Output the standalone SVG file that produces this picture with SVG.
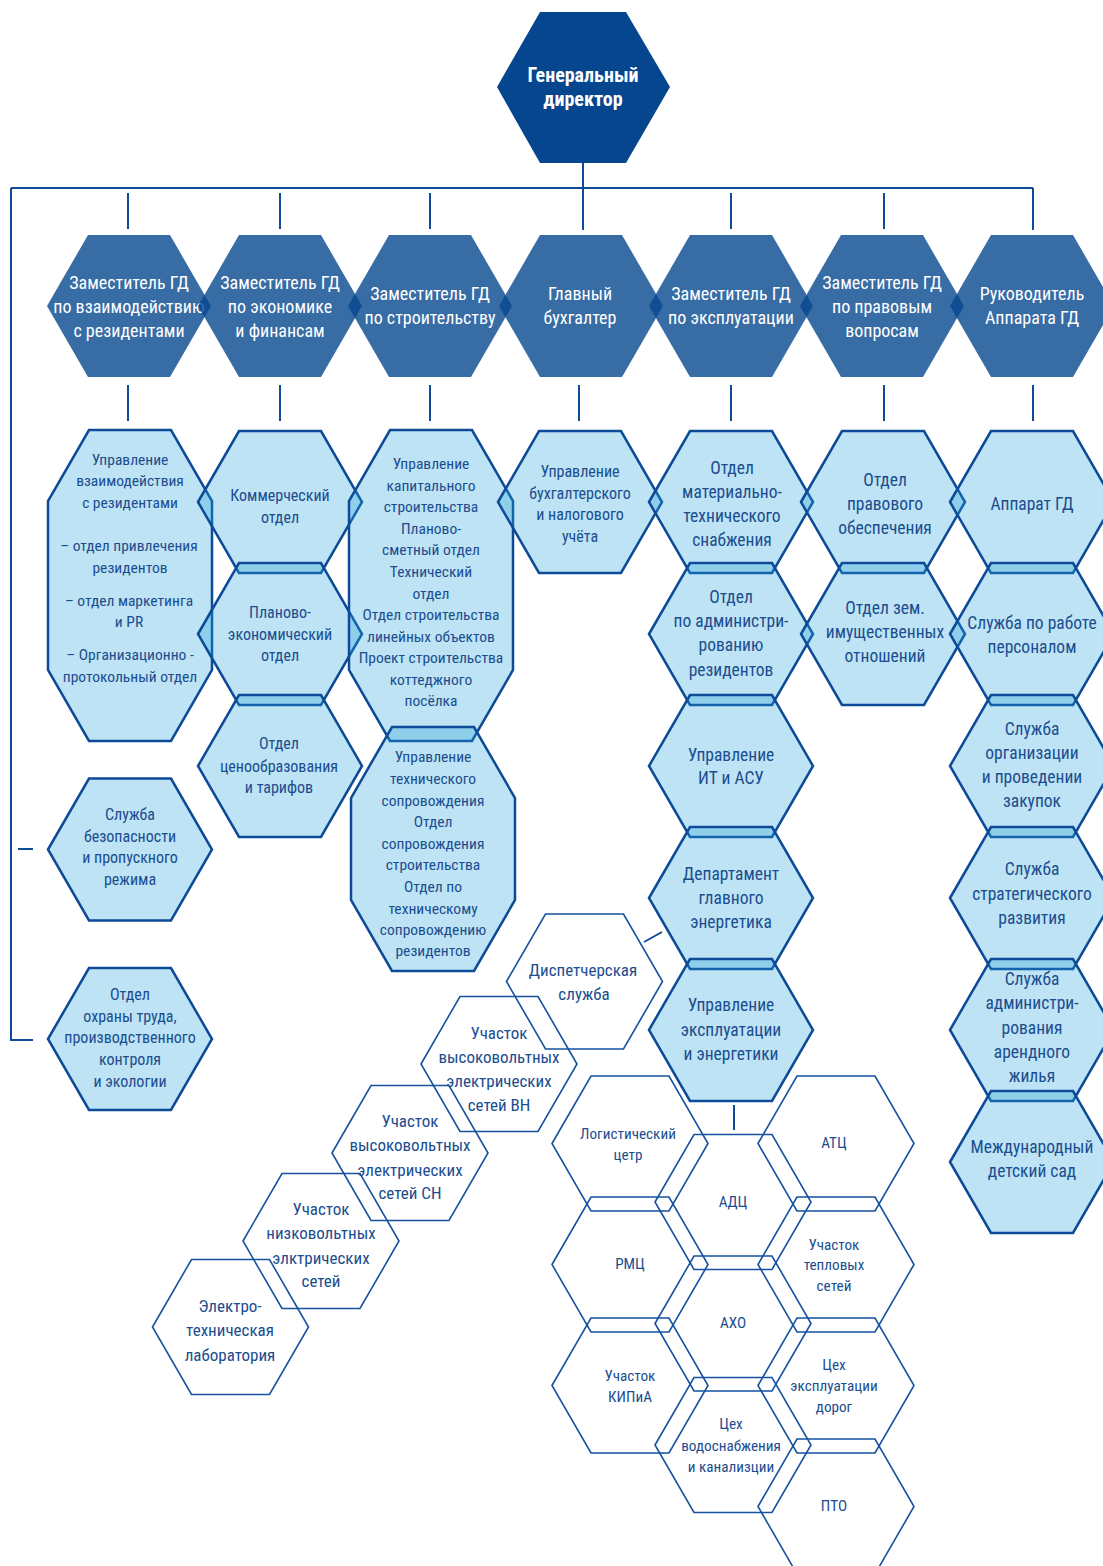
<svg xmlns="http://www.w3.org/2000/svg" xmlns:xlink="http://www.w3.org/1999/xlink" width="1103" height="1566" viewBox="0 0 1103 1566">
<defs>
<style>
text{font-family:"Liberation Sans Narrow","Arial Narrow","Roboto Condensed","Liberation Sans",sans-serif;text-anchor:middle}
.top{fill:#06468f}
.l2{fill:#05478f;fill-opacity:0.8}
.l3{fill:#23a2da;fill-opacity:0.3;stroke:#0d4a97;stroke-width:2.5}
.l4{fill:none;stroke:#1552a0;stroke-width:1.6}
.conn{fill:none;stroke:#0d4a97;stroke-width:2}
.tw{fill:#fff;font-size:18px}
.tb{font-weight:bold;font-size:20px}
.d{fill:#1b4d8f}
.f185{font-size:17.5px}
.f17{font-size:16px}
.f165{font-size:15.5px}
.f18{font-size:17px}
.f16{font-size:15.2px}
</style>
<polygon id="hexL" points="-82,0 -41,-71 41,-71 82,0 41,71 -41,71"/>
<polygon id="hexS" points="-78,0 -39,-67.5 39,-67.5 78,0 39,67.5 -39,67.5"/>
</defs>
<rect width="1103" height="1566" fill="#fff"/>

<g id="connectors" class="conn">
<path d="M583,163V230M11,188H1033M11,188V1040H33M1033,188V230"/>
<path d="M128,193V229M280,193V229M430,193V229M731,193V229M884,193V229"/>
<path d="M128,385V421M280,385V421M430,385V421M579,385V421M731,385V421M884,385V421M1033,385V421"/>
<path d="M18,849H33M644,942L662,932M734,1105V1130"/>
</g>

<g id="gd">
<polygon class="top" points="540,12 626,12 670,87 626,163 540,163 497,87"/>
<text class="tw tb"><tspan x="583" y="82">Генеральный</tspan><tspan x="583" y="106">директор</tspan></text>
</g>

<g id="zam-rezidenty"><use xlink:href="#hexL" x="129" y="306" class="l2"/>
<text class="tw"><tspan x="129" y="289">Заместитель ГД</tspan><tspan x="129" y="313">по взаимодействию</tspan><tspan x="129" y="337">с резидентами</tspan></text></g>
<g id="zam-ekonomika"><use xlink:href="#hexL" x="280" y="306" class="l2"/>
<text class="tw"><tspan x="280" y="289">Заместитель ГД</tspan><tspan x="280" y="313">по экономике</tspan><tspan x="280" y="337">и финансам</tspan></text></g>
<g id="zam-stroitelstvo"><use xlink:href="#hexL" x="430" y="306" class="l2"/>
<text class="tw"><tspan x="430" y="300">Заместитель ГД</tspan><tspan x="430" y="324">по строительству</tspan></text></g>
<g id="glavbuh"><use xlink:href="#hexL" x="581" y="306" class="l2"/>
<text class="tw"><tspan x="580" y="300">Главный</tspan><tspan x="580" y="324">бухгалтер</tspan></text></g>
<g id="zam-ekspluatacia"><use xlink:href="#hexL" x="731" y="306" class="l2"/>
<text class="tw"><tspan x="731" y="300">Заместитель ГД</tspan><tspan x="731" y="324">по эксплуатации</tspan></text></g>
<g id="zam-pravo"><use xlink:href="#hexL" x="882" y="306" class="l2"/>
<text class="tw"><tspan x="882" y="289">Заместитель ГД</tspan><tspan x="882" y="313">по правовым</tspan><tspan x="882" y="337">вопросам</tspan></text></g>
<g id="ruk-apparata"><use xlink:href="#hexL" x="1032" y="306" class="l2"/>
<text class="tw"><tspan x="1032" y="300">Руководитель</tspan><tspan x="1032" y="324">Аппарата ГД</tspan></text></g>

<!-- column 1 -->
<g id="upr-vzaimodeistvia">
<polygon class="l3" points="89,430 171,430 212,501 212,670 171,741 89,741 48,670 48,501"/>
<text class="d f165"><tspan x="130" y="465">Управление</tspan><tspan x="130" y="486">взаимодействия</tspan><tspan x="130" y="508">с резидентами</tspan><tspan x="129" y="551">– отдел привлечения</tspan><tspan x="130" y="573">резидентов</tspan><tspan x="129" y="606">– отдел маркетинга</tspan><tspan x="129" y="627">и PR</tspan><tspan x="130" y="660">– Организационно -</tspan><tspan x="130" y="682">протокольный отдел</tspan></text>
</g>
<g id="sluzhba-bezopasnosti"><use xlink:href="#hexL" x="130" y="849.5" class="l3"/>
<text class="d f17"><tspan x="130" y="820">Служба</tspan><tspan x="130" y="842">безопасности</tspan><tspan x="130" y="863">и пропускного</tspan><tspan x="130" y="885">режима</tspan></text></g>
<g id="otdel-ohrany-truda"><use xlink:href="#hexL" x="130" y="1039" class="l3"/>
<text class="d f17"><tspan x="130" y="1000">Отдел</tspan><tspan x="130" y="1022">охраны труда,</tspan><tspan x="130" y="1043">производственного</tspan><tspan x="130" y="1065">контроля</tspan><tspan x="130" y="1087">и экологии</tspan></text></g>

<!-- column 2 -->
<g id="kommercheskiy"><use xlink:href="#hexL" x="280" y="502" class="l3"/>
<text class="d f17"><tspan x="280" y="501">Коммерческий</tspan><tspan x="280" y="523">отдел</tspan></text></g>
<g id="planovo-ekonomicheskiy"><use xlink:href="#hexL" x="280" y="634" class="l3"/>
<text class="d f17"><tspan x="280" y="618">Планово-</tspan><tspan x="280" y="640">экономический</tspan><tspan x="280" y="661">отдел</tspan></text></g>
<g id="cenoobrazovanie"><use xlink:href="#hexL" x="280" y="766" class="l3"/>
<text class="d f17"><tspan x="279" y="749">Отдел</tspan><tspan x="279" y="772">ценообразования</tspan><tspan x="279" y="793">и тарифов</tspan></text></g>

<!-- column 3 -->
<g id="upr-kap-stroitelstva">
<polygon class="l3" points="390,430 472,430 513,501 513,670 472,741 390,741 349,670 349,501"/>
<text class="d f165"><tspan x="431" y="469">Управление</tspan><tspan x="431" y="491">капитального</tspan><tspan x="431" y="512">строительства</tspan><tspan x="431" y="534">Планово-</tspan><tspan x="431" y="555">сметный отдел</tspan><tspan x="431" y="577">Технический</tspan><tspan x="431" y="599">отдел</tspan><tspan x="431" y="620">Отдел строительства</tspan><tspan x="431" y="642">линейных объектов</tspan><tspan x="431" y="663">Проект строительства</tspan><tspan x="431" y="685">коттеджного</tspan><tspan x="431" y="706">посёлка</tspan></text>
</g>
<g id="upr-teh-soprovozhdenia">
<polygon class="l3" points="392,727 474,727 515,798 515,900 474,971 392,971 351,900 351,798"/>
<text class="d f165"><tspan x="433" y="762">Управление</tspan><tspan x="433" y="784">технического</tspan><tspan x="433" y="806">сопровождения</tspan><tspan x="433" y="827">Отдел</tspan><tspan x="433" y="849">сопровождения</tspan><tspan x="433" y="870">строительства</tspan><tspan x="433" y="892">Отдел по</tspan><tspan x="433" y="914">техническому</tspan><tspan x="433" y="935">сопровождению</tspan><tspan x="433" y="956">резидентов</tspan></text>
</g>

<!-- column 4 -->
<g id="upr-buhucheta"><use xlink:href="#hexL" x="580" y="502" class="l3"/>
<text class="d f17"><tspan x="580" y="477">Управление</tspan><tspan x="580" y="499">бухгалтерского</tspan><tspan x="580" y="520">и налогового</tspan><tspan x="580" y="542">учёта</tspan></text></g>

<!-- column 5 -->
<g id="mts"><use xlink:href="#hexL" x="731" y="502" class="l3"/>
<text class="d f185"><tspan x="732" y="474">Отдел</tspan><tspan x="732" y="498">материально-</tspan><tspan x="732" y="522">технического</tspan><tspan x="732" y="546">снабжения</tspan></text></g>
<g id="admin-rezidentov"><use xlink:href="#hexL" x="731" y="634" class="l3"/>
<text class="d f185"><tspan x="731" y="603">Отдел</tspan><tspan x="731" y="627">по администри-</tspan><tspan x="731" y="651">рованию</tspan><tspan x="731" y="676">резидентов</tspan></text></g>
<g id="it-asu"><use xlink:href="#hexL" x="731" y="766" class="l3"/>
<text class="d f185"><tspan x="731" y="761">Управление</tspan><tspan x="731" y="784">ИТ и АСУ</tspan></text></g>
<g id="dep-energetika"><use xlink:href="#hexL" x="731" y="898" class="l3"/>
<text class="d f185"><tspan x="731" y="880">Департамент</tspan><tspan x="731" y="904">главного</tspan><tspan x="731" y="928">энергетика</tspan></text></g>
<g id="upr-ekspluatacii"><use xlink:href="#hexL" x="731" y="1030" class="l3"/>
<text class="d f185"><tspan x="731" y="1011">Управление</tspan><tspan x="731" y="1036">эксплуатации</tspan><tspan x="731" y="1060">и энергетики</tspan></text></g>

<!-- column 6 -->
<g id="pravovoe"><use xlink:href="#hexL" x="883" y="502" class="l3"/>
<text class="d f185"><tspan x="885" y="486">Отдел</tspan><tspan x="885" y="510">правового</tspan><tspan x="885" y="534">обеспечения</tspan></text></g>
<g id="zem-otnoshenia"><use xlink:href="#hexL" x="883" y="634" class="l3"/>
<text class="d f185"><tspan x="885" y="614">Отдел зем.</tspan><tspan x="885" y="638">имущественных</tspan><tspan x="885" y="662">отношений</tspan></text></g>

<!-- column 7 -->
<g id="apparat"><use xlink:href="#hexL" x="1032" y="502" class="l3"/>
<text class="d f185"><tspan x="1032" y="510">Аппарат ГД</tspan></text></g>
<g id="personal"><use xlink:href="#hexL" x="1032" y="634" class="l3"/>
<text class="d f185"><tspan x="1032" y="629">Служба по работе</tspan><tspan x="1032" y="653">персоналом</tspan></text></g>
<g id="zakupki"><use xlink:href="#hexL" x="1032" y="766" class="l3"/>
<text class="d f185"><tspan x="1032" y="735">Служба</tspan><tspan x="1032" y="759">организации</tspan><tspan x="1032" y="783">и проведении</tspan><tspan x="1032" y="807">закупок</tspan></text></g>
<g id="strategia"><use xlink:href="#hexL" x="1032" y="898" class="l3"/>
<text class="d f185"><tspan x="1032" y="875">Служба</tspan><tspan x="1032" y="900">стратегического</tspan><tspan x="1032" y="924">развития</tspan></text></g>
<g id="arendnoe-zhilie"><use xlink:href="#hexL" x="1032" y="1030" class="l3"/>
<text class="d f185"><tspan x="1032" y="985">Служба</tspan><tspan x="1032" y="1009">администри-</tspan><tspan x="1032" y="1034">рования</tspan><tspan x="1032" y="1058">арендного</tspan><tspan x="1032" y="1082">жилья</tspan></text></g>
<g id="detsad"><use xlink:href="#hexL" x="1032" y="1162" class="l3"/>
<text class="d f185"><tspan x="1032" y="1153">Международный</tspan><tspan x="1032" y="1177">детский сад</tspan></text></g>

<!-- bottom chain -->
<g id="dispetcher"><use xlink:href="#hexS" x="584.5" y="981.5" class="l4"/>
<text class="d f18"><tspan x="583" y="976">Диспетчерская</tspan><tspan x="584" y="1000">служба</tspan></text></g>
<g id="uch-vn"><use xlink:href="#hexS" x="499" y="1064" class="l4"/>
<text class="d f18"><tspan x="499" y="1039">Участок</tspan><tspan x="499" y="1063">высоковольтных</tspan><tspan x="499" y="1087">электрических</tspan><tspan x="499" y="1111">сетей ВН</tspan></text></g>
<g id="uch-sn"><use xlink:href="#hexS" x="410" y="1153" class="l4"/>
<text class="d f18"><tspan x="410" y="1127">Участок</tspan><tspan x="410" y="1151">высоковольтных</tspan><tspan x="410" y="1176">электрических</tspan><tspan x="410" y="1199">сетей СН</tspan></text></g>
<g id="uch-nv"><use xlink:href="#hexS" x="321" y="1241" class="l4"/>
<text class="d f18"><tspan x="321" y="1215">Участок</tspan><tspan x="321" y="1239">низковольтных</tspan><tspan x="321" y="1264">элктрических</tspan><tspan x="321" y="1287">сетей</tspan></text></g>
<g id="laboratoria"><use xlink:href="#hexS" x="230.5" y="1327" class="l4"/>
<text class="d f18"><tspan x="230" y="1312">Электро-</tspan><tspan x="230" y="1336">техническая</tspan><tspan x="230" y="1361">лаборатория</tspan></text></g>

<!-- right cluster -->
<g id="logist"><use xlink:href="#hexS" x="630" y="1143.5" class="l4"/>
<text class="d f16"><tspan x="628" y="1139">Логистический</tspan><tspan x="628" y="1160">цетр</tspan></text></g>
<g id="rmc"><use xlink:href="#hexS" x="630" y="1264.5" class="l4"/>
<text class="d f16"><tspan x="630" y="1269">РМЦ</tspan></text></g>
<g id="kipia"><use xlink:href="#hexS" x="630" y="1385.5" class="l4"/>
<text class="d f16"><tspan x="630" y="1381">Участок</tspan><tspan x="630" y="1402">КИПиА</tspan></text></g>
<g id="adc"><use xlink:href="#hexS" x="733" y="1202" class="l4"/>
<text class="d f16"><tspan x="733" y="1207">АДЦ</tspan></text></g>
<g id="aho"><use xlink:href="#hexS" x="733" y="1323.5" class="l4"/>
<text class="d f16"><tspan x="733" y="1328">АХО</tspan></text></g>
<g id="vodosnabzhenie"><use xlink:href="#hexS" x="733" y="1445" class="l4"/>
<text class="d f16"><tspan x="731" y="1429">Цех</tspan><tspan x="731" y="1451">водоснабжения</tspan><tspan x="731" y="1472">и канализции</tspan></text></g>
<g id="atc"><use xlink:href="#hexS" x="836" y="1143.5" class="l4"/>
<text class="d f16"><tspan x="834" y="1148">АТЦ</tspan></text></g>
<g id="teplovye-seti"><use xlink:href="#hexS" x="836" y="1264.5" class="l4"/>
<text class="d f16"><tspan x="834" y="1250">Участок</tspan><tspan x="834" y="1270">тепловых</tspan><tspan x="834" y="1291">сетей</tspan></text></g>
<g id="dorogi"><use xlink:href="#hexS" x="836" y="1385.5" class="l4"/>
<text class="d f16"><tspan x="834" y="1370">Цех</tspan><tspan x="834" y="1391">эксплуатации</tspan><tspan x="834" y="1412">дорог</tspan></text></g>
<g id="pto"><use xlink:href="#hexS" x="836" y="1506.5" class="l4"/>
<text class="d f16"><tspan x="834" y="1511">ПТО</tspan></text></g>
</svg>
